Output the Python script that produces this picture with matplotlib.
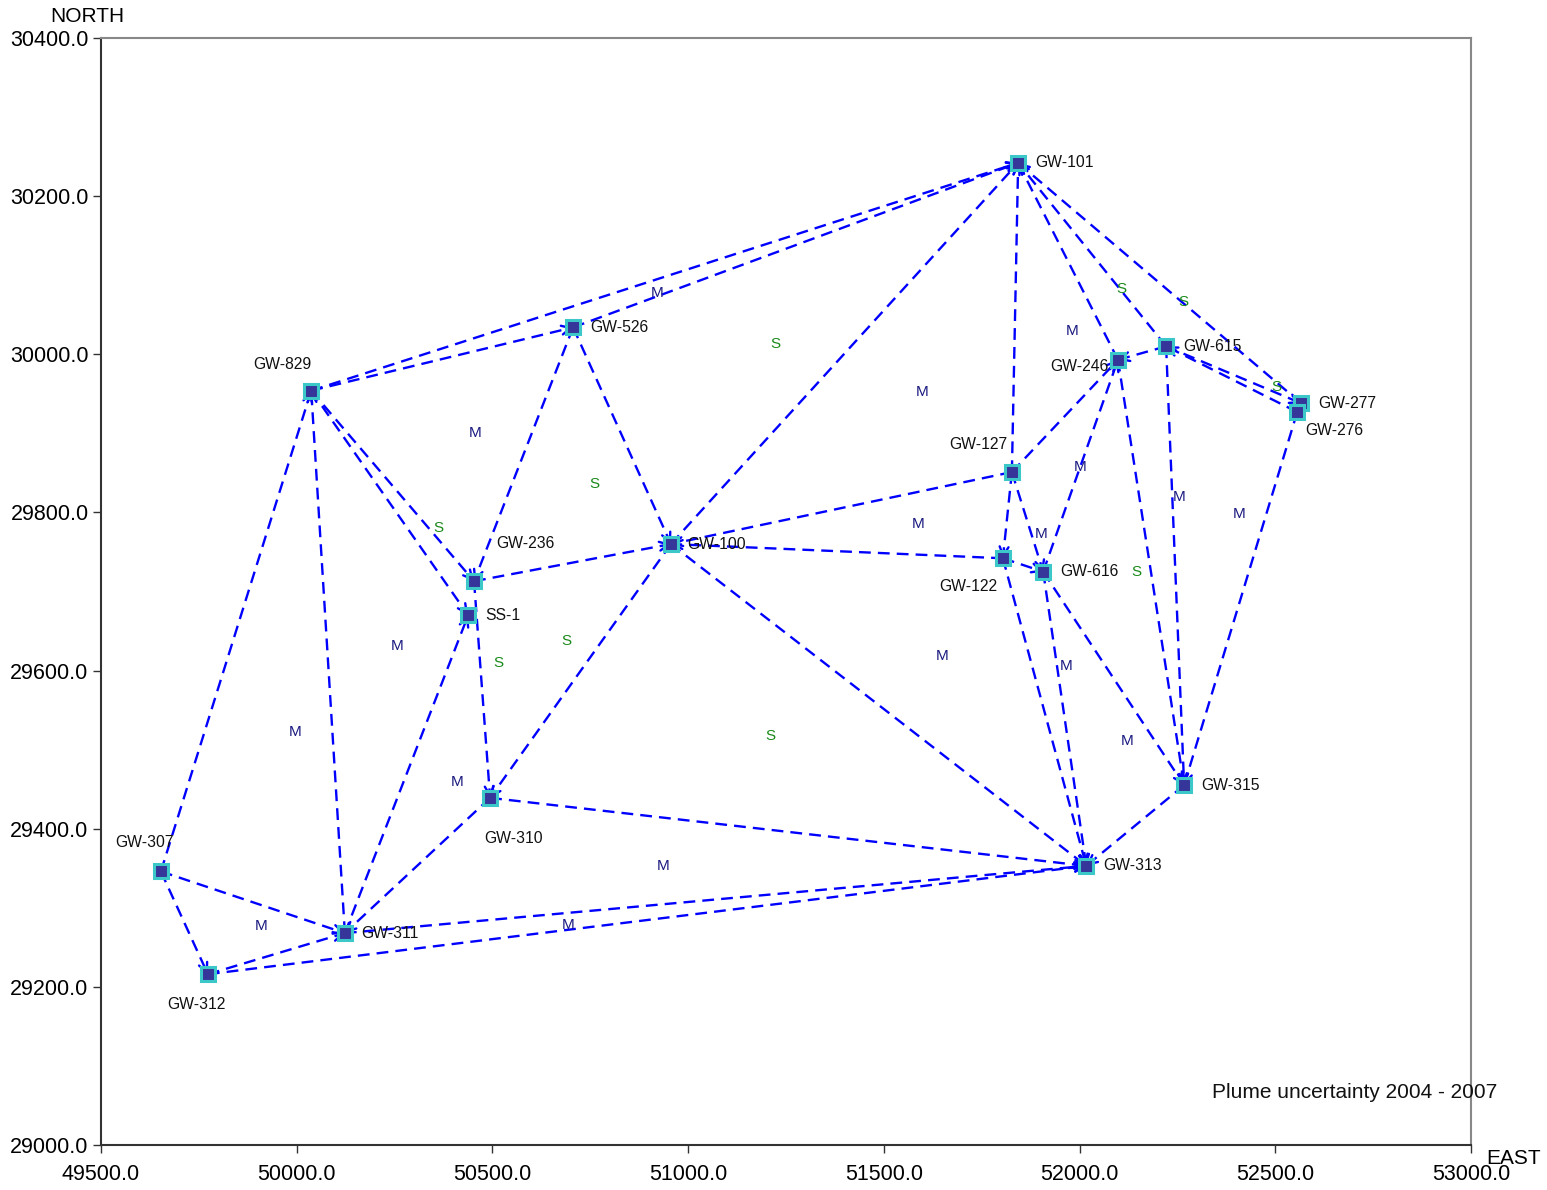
import matplotlib
matplotlib.use("Agg")
import matplotlib.pyplot as plt
import numpy as np

plt.rcParams['font.family'] = ['Liberation Sans', 'DejaVu Sans']

# ---- data ----
well_names = ["GW-101", "GW-526", "GW-829", "GW-246", "GW-615", "GW-277", "GW-276",
              "GW-127", "GW-100", "GW-236", "SS-1", "GW-122", "GW-616", "GW-310",
              "GW-315", "GW-313", "GW-307", "GW-311", "GW-312"]
well_east = [51843, 50706, 50037, 52098, 52221, 52566, 52556,
             51827, 50956, 50453, 50438, 51804, 51907, 50494,
             52267, 52017, 49653, 50123, 49773]
well_north = [30242, 30034, 29954, 29993, 30010, 29938, 29927,
              29851, 29760, 29713, 29670, 29742, 29725, 29439,
              29455, 29353, 29346, 29268, 29216]

edge_from = ["GW-829", "GW-526", "GW-829", "GW-100", "GW-127", "GW-246", "GW-615", "GW-277",
             "GW-615", "GW-276", "GW-615", "GW-276", "GW-246", "GW-615", "GW-616",
             "GW-127", "GW-616", "GW-127", "GW-122", "GW-127", "GW-122", "GW-122",
             "GW-616", "GW-100", "GW-100", "GW-236", "GW-526", "GW-526",
             "GW-829", "GW-311", "GW-307", "GW-236", "GW-311",
             "GW-310", "GW-310", "GW-311", "GW-312", "GW-307", "GW-307", "GW-312", "GW-315",
             "GW-829", "GW-127"]
edge_to = ["GW-101", "GW-101", "GW-526", "GW-101", "GW-101", "GW-101", "GW-101", "GW-101",
           "GW-246", "GW-615", "GW-277", "GW-315", "GW-315", "GW-315", "GW-315",
           "GW-246", "GW-246", "GW-616", "GW-616", "GW-122", "GW-313", "GW-100",
           "GW-313", "GW-313", "GW-310", "GW-100", "GW-100", "GW-236",
           "GW-236", "GW-829", "GW-829", "GW-310", "SS-1",
           "GW-311", "GW-313", "GW-313", "GW-313", "GW-311", "GW-312", "GW-311", "GW-313",
           "SS-1", "GW-100"]

m_east = [50920, 51981, 51597, 50455, 52001, 52254, 52407, 51587, 51901, 50256,
          51649, 51965, 49996, 52121, 50410, 50936, 49909, 50693]
m_north = [30077, 30029, 29952, 29900, 29857, 29820, 29798, 29785, 29773, 29631,
           29618, 29606, 29522, 29511, 29459, 29353, 29277, 29278]
s_east = [52108, 52264, 51222, 52502, 50760, 50361, 52144, 50688, 50514, 51209]
s_north = [30083, 30066, 30013, 29959, 29836, 29780, 29725, 29637, 29610, 29517]

x_ticks = [49500, 50000, 50500, 51000, 51500, 52000, 52500, 53000]
y_ticks = [29000, 29200, 29400, 29600, 29800, 30000, 30200, 30400]

# ---- label placement (style) in points: (dx, dy, ha, va) ----
label_pos = {
    "GW-101": (12, 0, 'left', 'center'), "GW-526": (12, 0, 'left', 'center'),
    "GW-829": (-21, 19, 'center', 'center'), "GW-246": (-7, -5, 'right', 'center'),
    "GW-615": (12, 0, 'left', 'center'), "GW-277": (12, 0, 'left', 'center'),
    "GW-276": (6, -13, 'left', 'center'), "GW-127": (-3, 20, 'right', 'center'),
    "GW-100": (12, 0, 'left', 'center'), "GW-236": (16, 27, 'left', 'center'),
    "SS-1": (12, 0, 'left', 'center'), "GW-122": (-25, -20, 'center', 'center'),
    "GW-616": (12, 0, 'left', 'center'), "GW-310": (17, -29, 'center', 'center'),
    "GW-315": (12, 0, 'left', 'center'), "GW-313": (12, 0, 'left', 'center'),
    "GW-307": (-12, 21, 'center', 'center'), "GW-311": (12, 0, 'left', 'center'),
    "GW-312": (-8, -22, 'center', 'center'),
}

pos = {n: (e, nn) for n, e, nn in zip(well_names, well_east, well_north)}

fig = plt.figure(figsize=(15.47, 11.90), dpi=100)
ax = fig.add_axes([0.0653, 0.0378, 0.8856, 0.9303])
ax.set_xlim(49500, 53000)
ax.set_ylim(29000, 30400)

line_col = '#0000ff'
for a, b in zip(edge_from, edge_to):
    x0, y0 = pos[a]
    x1, y1 = pos[b]
    ax.plot([x0, x1], [y0, y1], color=line_col, lw=1.7, ls=(0, (5, 3)), zorder=2)
    ax.annotate('', xy=(x1, y1), xytext=(x1 - (x1 - x0) * 0.02, y1 - (y1 - y0) * 0.02),
                arrowprops=dict(arrowstyle='->', color=line_col, lw=1.7,
                                mutation_scale=16, shrinkA=0, shrinkB=0), zorder=3)

ax.plot(well_east, well_north, ls='none', marker='s', markersize=10.5,
        markerfacecolor='#35359a', markeredgecolor='#3cc8c8', markeredgewidth=2.2, zorder=4)

for n in well_names:
    dx, dy, ha, va = label_pos[n]
    ax.annotate(n, xy=pos[n], xytext=(dx, dy), textcoords='offset points',
                ha=ha, va=va, fontsize=11.3, color='#111111', zorder=5)

for x, y in zip(m_east, m_north):
    ax.text(x, y, 'M', color='#1a1a80', fontsize=11, ha='center', va='center', zorder=5)
for x, y in zip(s_east, s_north):
    ax.text(x, y, 'S', color='#1a8a1a', fontsize=11, ha='center', va='center', zorder=5)

ax.set_xticks(x_ticks)
ax.set_yticks(y_ticks)
ax.set_xticklabels([f"{v:.1f}" for v in x_ticks], fontsize=15.5)
ax.set_yticklabels([f"{v:.1f}" for v in y_ticks], fontsize=15.5)
ax.tick_params(axis='x', direction='out', length=6, width=1, color='#333333', pad=8)
ax.tick_params(axis='y', direction='out', length=6, width=1, color='#333333', pad=3)

for s in ['left', 'bottom']:
    ax.spines[s].set_color('#333333')
    ax.spines[s].set_linewidth(1.5)
for s in ['top', 'right']:
    ax.spines[s].set_color('#888888')
    ax.spines[s].set_linewidth(1.5)

fig.text(87 / 1547, 1 - 17 / 1190, 'NORTH', ha='center', va='center', fontsize=15)
fig.text(1514 / 1547, 1 - 1158 / 1190, 'EAST', ha='center', va='center', fontsize=15)
fig.text(1212 / 1547, 1 - 1092 / 1190, 'Plume uncertainty 2004 - 2007',
         fontsize=15, ha='left', va='center', color='#111111', zorder=6)

fig.savefig('out.png', dpi=100)
